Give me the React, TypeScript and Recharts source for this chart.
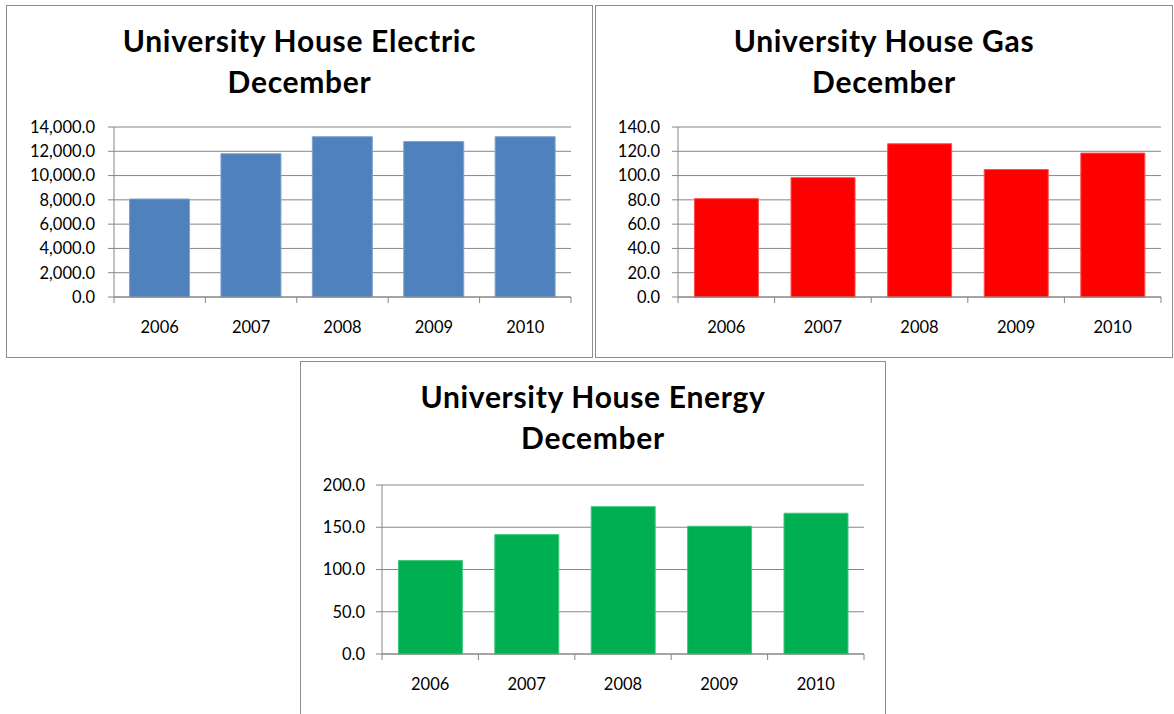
import { BarChart, Bar, XAxis, YAxis, CartesianGrid, Customized } from "recharts";

const years = ["2006", "2007", "2008", "2009", "2010"];
const electricValues = [8070, 11800, 13200, 12800, 13200];
const gasValues = [81, 98.3, 126.2, 105, 118.5];
const energyValues = [110.6, 141.3, 174.4, 151.2, 166.6];

const electricTicks = [0, 2000, 4000, 6000, 8000, 10000, 12000, 14000];
const gasTicks = [0, 20, 40, 60, 80, 100, 120, 140];
const energyTicks = [0, 50, 100, 150, 200];

const FONT = "Lato, 'Open Sans', sans-serif";
const GRID = "#868686";

const fmt = (v: number) =>
  v.toLocaleString("en-US", { minimumFractionDigits: 1, maximumFractionDigits: 1 });

interface PanelProps {
  title: string;
  values: number[];
  ticks: number[];
  fill: string;
  edge: string;
  left: number;
  top: number;
  width: number;
  height: number;
  margin: { top: number; right: number; bottom: number; left: number };
  yWidth: number;
  tickMargin: number;
}

const Panel = ({
  title,
  values,
  ticks,
  fill,
  edge,
  left,
  top,
  width,
  height,
  margin,
  yWidth,
  tickMargin,
}: PanelProps) => {
  const cw = width - 2;
  const ch = height - 2;
  const data = years.map((year, i) => ({ year, value: values[i] }));
  const plotLeft = margin.left + yWidth;
  const plotW = cw - plotLeft - margin.right;
  const band = plotW / years.length;
  const axisY = ch - margin.bottom - 30;

  const XTick = (props: any) => {
    const { x, index } = props;
    return (
      <g>
        <line x1={x - band / 2} x2={x - band / 2} y1={axisY} y2={axisY + 6} stroke={GRID} />
        {index === years.length - 1 && (
          <line x1={x + band / 2} x2={x + band / 2} y1={axisY} y2={axisY + 6} stroke={GRID} />
        )}
        <text x={x} y={axisY + 36} textAnchor="middle" fontFamily={FONT} fontSize={16.5} fill="#000">
          {props.payload.value}
        </text>
      </g>
    );
  };

  const [line1, line2] = title.split("\n");

  return (
    <div
      style={{
        position: "absolute",
        left,
        top,
        width,
        height,
        boxSizing: "border-box",
        border: "1px solid #8e8e8e",
        background: "#fff",
      }}
    >
      <BarChart width={cw} height={ch} data={data} margin={margin} barCategoryGap="17%">
        <CartesianGrid vertical={false} stroke={GRID} />
        <XAxis
          dataKey="year"
          height={30}
          axisLine={{ stroke: GRID }}
          tickLine={false}
          tick={<XTick />}
          interval={0}
        />
        <YAxis
          width={yWidth}
          domain={[ticks[0], ticks[ticks.length - 1]]}
          ticks={ticks}
          interval={0}
          tickFormatter={fmt}
          axisLine={{ stroke: GRID }}
          tickLine={{ stroke: GRID }}
          tickSize={6}
          tickMargin={tickMargin}
          tick={{ fontFamily: FONT, fontSize: 16.5, fill: "#000" }}
        />
        <Bar dataKey="value" fill={fill} stroke={edge} strokeWidth={1} isAnimationActive={false} />
        <Customized
          component={() => (
            <text
              textAnchor="middle"
              fontFamily={FONT}
              fontWeight="bold"
              fontSize={30}
              letterSpacing={0.7}
              fill="#000"
            >
              <tspan x={cw / 2} y={46}>
                {line1}
              </tspan>
              <tspan x={cw / 2} y={87}>
                {line2}
              </tspan>
            </text>
          )}
        />
      </BarChart>
    </div>
  );
};

export default function App() {
  return (
    <div
      style={{
        position: "absolute",
        left: 0,
        top: 0,
        width: 1174,
        height: 714,
        overflow: "hidden",
        background: "#fff",
      }}
    >
      <Panel
        title={"University House Electric\nDecember"}
        values={electricValues}
        ticks={electricTicks}
        fill="#4F81BD"
        edge="#7FA3D1"
        left={6}
        top={5}
        width={587}
        height={353}
        margin={{ top: 121, right: 21, bottom: 30, left: 17 }}
        yWidth={90}
        tickMargin={13}
      />
      <Panel
        title={"University House Gas\nDecember"}
        values={gasValues}
        ticks={gasTicks}
        fill="#FF0000"
        edge="#FF5050"
        left={595}
        top={5}
        width={578}
        height={353}
        margin={{ top: 121, right: 11, bottom: 30, left: 12 }}
        yWidth={70}
        tickMargin={12}
      />
      <Panel
        title={"University House Energy\nDecember"}
        values={energyValues}
        ticks={energyTicks}
        fill="#00B050"
        edge="#40C880"
        left={300}
        top={361}
        width={586}
        height={360}
        margin={{ top: 123, right: 21, bottom: 36, left: 11 }}
        yWidth={70}
        tickMargin={11}
      />
    </div>
  );
}
